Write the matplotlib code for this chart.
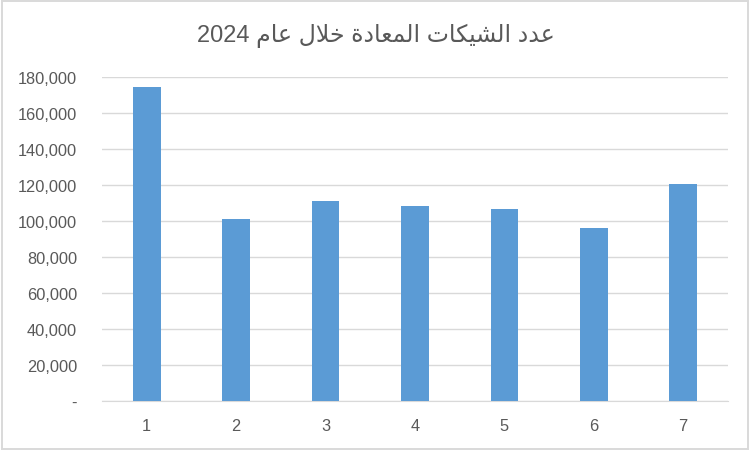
import matplotlib
matplotlib.use("Agg")
import matplotlib.pyplot as plt
from matplotlib.patches import Rectangle
from matplotlib.ticker import FuncFormatter

# data
categories = ["1", "2", "3", "4", "5", "6", "7"]
returned_cheques = [174500, 101300, 111300, 108500, 106800, 96200, 120700]
y_ticks = list(range(0, 180001, 20000))
title_text = "عدد الشيكات المعادة خلال عام 2024"

# minimal arabic shaping (matplotlib has no shaping / bidi)
FORMS = {
    # isolated, final, initial, medial
    "ع": ("\uFEC9", "\uFECA", "\uFECB", "\uFECC"),
    "د": ("\uFEA9", "\uFEAA", None, None),
    "ا": ("\uFE8D", "\uFE8E", None, None),
    "ل": ("\uFEDD", "\uFEDE", "\uFEDF", "\uFEE0"),
    "ش": ("\uFEB5", "\uFEB6", "\uFEB7", "\uFEB8"),
    "ي": ("\uFEF1", "\uFEF2", "\uFEF3", "\uFEF4"),
    "ك": ("\uFED9", "\uFEDA", "\uFEDB", "\uFEDC"),
    "ت": ("\uFE95", "\uFE96", "\uFE97", "\uFE98"),
    "م": ("\uFEE1", "\uFEE2", "\uFEE3", "\uFEE4"),
    "ة": ("\uFE93", "\uFE94", None, None),
    "خ": ("\uFEA5", "\uFEA6", "\uFEA7", "\uFEA8"),
    "LA": ("\uFEFB", "\uFEFC", None, None),
}


def dual(ch):
    return ch in FORMS and FORMS[ch][2] is not None


def shape(word):
    # merge lam + alef
    chars = []
    i = 0
    while i < len(word):
        if word[i] == "ل" and i + 1 < len(word) and word[i + 1] == "ا":
            chars.append("LA")
            i += 2
        else:
            chars.append(word[i])
            i += 1
    out = []
    for i, ch in enumerate(chars):
        if ch not in FORMS:
            out.append(ch)
            continue
        prev_joins = i > 0 and dual(chars[i - 1])
        next_joins = dual(ch) and i + 1 < len(chars) and chars[i + 1] in FORMS
        f = FORMS[ch]
        if prev_joins and next_joins:
            out.append(f[3])
        elif prev_joins:
            out.append(f[1])
        elif next_joins:
            out.append(f[2])
        else:
            out.append(f[0])
    return "".join(out)


def visual(text):
    words = text.split(" ")
    shaped = []
    for w in words:
        if w.isdigit():
            shaped.append(w)
        else:
            shaped.append(shape(w)[::-1])
    return " ".join(shaped[::-1])


fig = plt.figure(figsize=(7.52, 4.52), dpi=100)
ax = fig.add_axes([0.1356, 0.1106, 0.8324, 0.7168])

x = range(len(categories))
ax.bar(x, returned_cheques, width=0.31, color="#5B9BD5", zorder=3)

ax.set_xlim(-0.5, len(categories) - 0.5)
ax.set_ylim(0, 180000)
ax.set_yticks(y_ticks)
ax.yaxis.set_major_formatter(FuncFormatter(lambda v, p: "-" if v == 0 else f"{int(v):,}"))
ax.set_xticks(list(x))
ax.set_xticklabels(categories)

ax.grid(axis="y", color="#D9D9D9", linewidth=1, zorder=0)
for s in ["top", "right", "left"]:
    ax.spines[s].set_visible(False)
ax.spines["bottom"].set_color("#D9D9D9")
ax.tick_params(axis="both", length=0, labelsize=11.8, labelcolor="#595959",
               labelfontfamily="Liberation Sans")
ax.tick_params(axis="y", pad=18)
ax.tick_params(axis="x", pad=12)

fig.text(0.5, 0.92, visual(title_text), ha="center", va="center", fontsize=17,
         color="#595959", family=["Liberation Sans", "DejaVu Sans"])

# chart frame
fig.patches.append(Rectangle((0.002, 0.004), 0.993, 0.992, transform=fig.transFigure,
                             fill=False, edgecolor="#D9D9D9", linewidth=1.4))

fig.savefig("out.png", dpi=100)
